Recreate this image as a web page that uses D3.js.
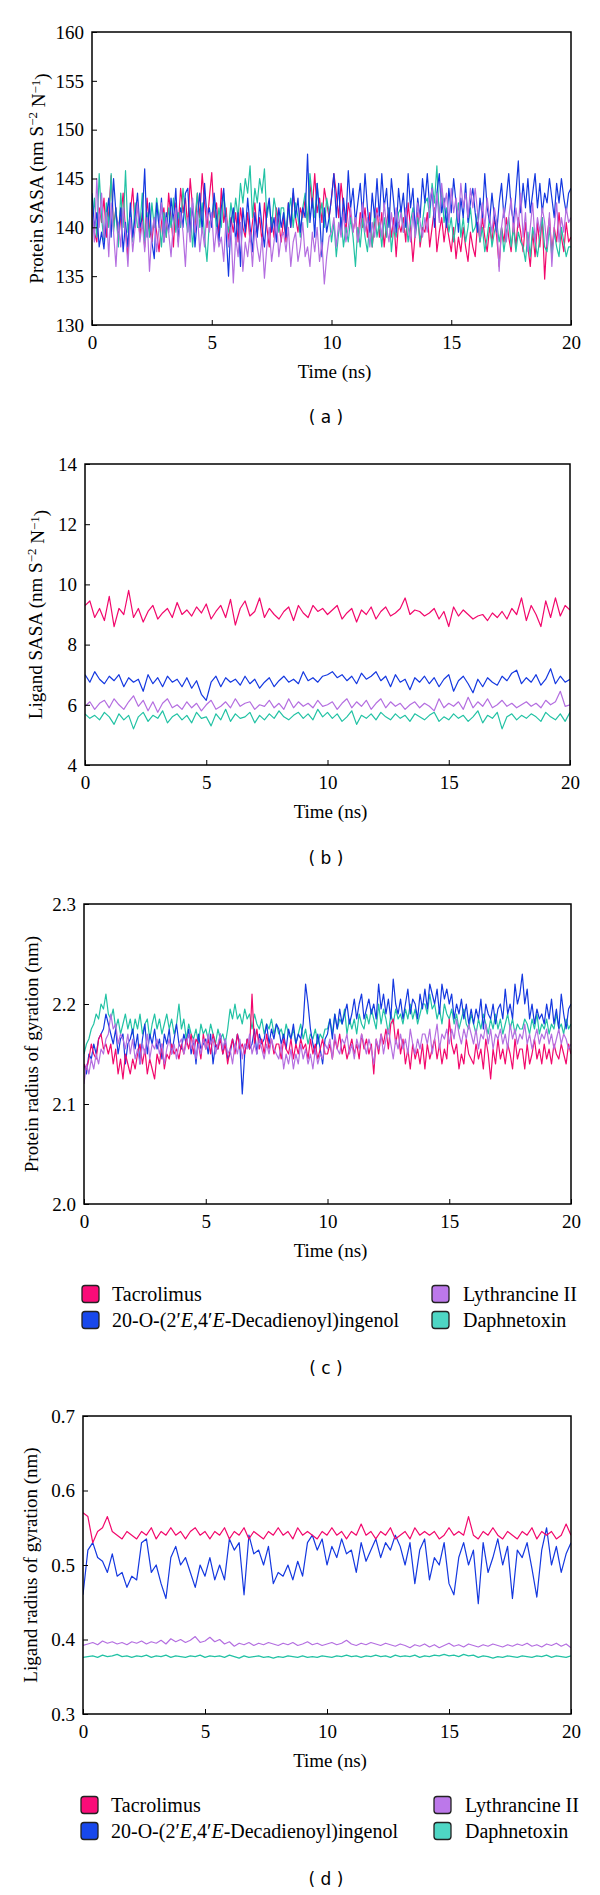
<!DOCTYPE html>
<html><head><meta charset="utf-8">
<script src="https://cdn.jsdelivr.net/npm/d3@7/dist/d3.min.js"></script>
<style>body{margin:0;background:#fff}</style>
</head><body>
<svg id="chart" width="600" height="1895"></svg>
<script>
// ---------- data ----------
const seriesNames = ["Tacrolimus", "20-O-(2′E,4′E-Decadienoyl)ingenol", "Lythrancine II", "Daphnetoxin"];
const timeSpan = 20; // ns, samples are evenly spaced over 0–20 ns
const xTicks = [0, 5, 10, 15, 20];

// (a) Protein SASA, 0.1 ns sampling
const aTac = [141,139.5,138.5,142,140.5,143,139,141.5,145.3,140, 142,138.5,141,143.5,139.5,137,141.5,144,140,142.5, 139,141.5,138,143,140,138.5,141,139.5,137.5,140.5, 142,139,143.5,141,138,142.5,140,144,141.5,143, 140,145,142,139.5,143.5,141,145.5,142.5,140,143, 145.6,141,142.5,139,144,140.5,142,138.5,141,139.5, 141.5,138.5,142,140,139,141.5,138.5,140.5,142.5,139.5, 141,138.5,142.5,140,138,141,139,142,140.5,138.5, 141,138.5,142.5,140,143.5,141,139.5,142,141,143, 140.5,144.5,142,145.5,141.5,143,140.5,144,142.5,141, 143,145.5,143.5,141,144.5,142,139.5,142.5,141,139.5, 141,138.5,141.5,140,142,139,141.5,138,140.5,142, 139,141.5,138,140.5,142,139,141,137,140.5,139.5, 141,138.5,142.5,140,136.5,139.5,141.5,138,140,139.5, 141.5,138,140,142,137.5,139.5,141,138.5,140.5,139, 137.5,140,136.8,139,137.5,140,138,136.5,139.5,138, 137,140.5,138.5,141,139,137.5,140,138.5,141,139, 136,140,138.5,141,139,137.5,140.5,138,141,139.5, 137.5,140.5,138,136,139.5,137,140.5,138,141,134.7, 139,141,137.5,140,138.5,141.5,139,137.5,140.5,138.5, 139];
const aDeca = [143.5,140,141.5,138,139.5,137.8,141,143,139,145, 141.5,139.5,142,137.5,140.5,138,142.5,139,141,143.5, 140,141,146,139,142.5,138.5,136.8,142.5,140,143, 138.5,141.5,139.5,143,140.5,144,138.5,142,140,143.5, 144,139.5,142.5,138,141,143.5,139.5,144.5,141,142, 140,143.5,141,138.5,142,144,139.5,135,140.5,142, 138.5,141.5,136,142,139.5,143,140,137.5,141.5,139, 142.5,140,138,141.5,143,139.5,141,138.5,142,140, 141.5,139,142.5,140,144,141,143,139.5,142,141, 147.5,140.5,143,139,144.5,141.5,137,142,139.5,141, 143,145.5,141,144.5,139.5,143,140.5,145.8,142,144, 140.5,142.5,144.5,141,145.5,142,139.5,143.5,141,145, 141,145.5,142,144,140,145,142.5,139.5,144,141.5, 143.5,140,145.5,142,144,139.5,143,141,145,142.5, 145.5,142,144,140,143.5,145.5,141.5,143,140,144, 141.5,145,142.5,139.5,143,141,144.5,140.5,142.5,144, 141.5,139.5,143,141,145.5,142,140.5,143.5,141,139.5, 142.5,144.5,141,143,145.5,142,140.5,143.5,146.8,141.5, 144.5,142,145,141.5,143.5,145.5,142,144.5,141.5,143.5, 142.5,145,143,141,144.5,142.5,145,143,141.5,143.5, 144];
const aLyth = [142,138.5,145,140,143.5,139,141.5,137,142.5,139.5, 136,140.5,138,142,139.5,136,141,137.5,140,142.5, 138.5,140.5,137.5,141,135.5,139.5,141,137.5,140,142.5, 138.5,141,139.5,137,140.5,142,138,141.5,139.5,136, 141,138.5,143,139.5,141.5,137.5,140,138,142,139.5, 141.5,137.5,140,138,139,136.5,141,138,140,134.3, 139,137,140.5,135.5,138.5,137,139.5,136,140,138, 136.5,139,134.8,138,140,136.5,138.5,141,137,139, 139.5,137.5,140,136,138.5,139.5,136.5,138,140.5,137, 138,136,139.5,137.5,140,136.5,138.5,134.2,137,139, 139.5,141,138,140.5,139,141.5,138.5,140,142,139.5, 141,138.5,140,142.5,139.5,141,138,140.5,139,141.5, 141,139,142.5,140,138.5,141.5,139.5,142,140,141.5, 139.5,142,140,138.5,141.5,139,142.5,140.5,139,141, 139.5,142.5,144,141,143.5,140.5,144.5,142,143.5,140.5, 144,141.5,143,140.5,144.5,142,143.5,141,144,142, 144,141.5,139,142.5,140,143,141,139.5,142,140.5, 135.5,140,142,138.5,141,143,139.5,142,140,143.5, 139,141.5,137.5,140,142.5,138.5,141,139.5,142,140.5, 138,141.5,136,140,142.5,138.5,141,139.5,142,140.5, 141];
const aDaph = [140,143,139,145.5,141,138.5,142.5,140,145.5,139.5, 142,138,143.5,140,145.8,139.5,141.5,138.5,142.5,140, 140,143.5,138.5,141.5,139,142.5,140,143,141,138, 141.5,139,142,140,143,139.5,141.5,140,144,141, 139.5,142,138,141,143.5,140,142.5,139,136.5,140.5, 141,143,139.5,142,140,143.5,141,139.5,142.5,140.5, 143,141,144.5,142.5,145,143.5,146.3,141,144,142.5, 145,143.5,146,141,142.5,140,143,141.5,139.5,142, 142,139.5,141.5,143,140,142.5,141,139,142,143.5, 140,145.5,143,141,144.5,141,142.5,140,143,141.5, 138.5,140.5,137,139.5,141,138,140,138.5,141,139, 136,140,138,141,139,137.5,140.5,138,141.5,139, 140.5,138,141,139,142,137.5,140,139,141.5,142, 139.5,141,138.5,140.5,142,139,141,138.5,140.5,142.5, 143,141,144.5,142.5,146.3,141,144,140.5,142,139.5, 141,138.5,140.5,142.5,139,141,138.5,140,142,139.5, 140,141.5,138.5,140,137.5,139,141,138,139.5,140.5, 138.5,140,137.5,139.5,141,138,140,137.5,139.5,138.5, 138,136.5,139.5,137,140,138.5,137,139,141,138, 137.5,140,137,139.5,138,137,140,138.5,137,138, 138];

// (b) Ligand SASA, 0.2 ns sampling
const bTac = [9.3,9.45,8.9,9.2,8.8,9.6,8.6,9.2,9.0,9.8,8.9, 9.2,8.75,9.1,9.3,8.85,9.05,9.2,8.9,9.4,9.0, 9.15,8.95,9.25,9.05,9.35,8.85,9.1,9.3,8.9,9.5, 8.65,9.2,9.45,8.95,9.1,9.55,8.9,9.2,9.0,8.85, 9.1,9.25,8.8,9.3,9.05,8.9,9.3,9.1,9.2,9.0, 9.15,9.3,8.85,9.05,9.2,8.75,9.15,9.0,9.25,8.85, 9.1,9.25,8.95,9.05,9.2,9.55,9.0,9.15,9.1,8.95, 9.05,9.2,8.85,9.1,8.6,9.25,8.95,9.15,9.0,8.85, 8.95,9.0,8.8,9.05,8.9,9.1,8.85,9.2,9.0,9.55, 8.8,9.3,9.0,8.6,9.45,8.9,9.55,8.95,9.3,9.15];
const bDeca = [7.0,6.75,7.1,6.85,6.7,6.95,6.8,7.0,6.6,6.9,6.75, 6.85,6.45,7.0,6.7,6.9,6.6,6.95,6.75,6.85,6.6, 6.9,6.55,6.8,6.35,6.15,6.75,6.95,6.6,6.9,6.75, 6.85,6.65,6.95,6.7,6.85,6.55,6.75,6.9,6.6,6.8, 6.95,6.75,6.85,6.7,7.1,6.8,6.9,6.75,6.95,7.0, 7.1,6.9,7.0,6.8,6.95,6.7,7.05,6.85,6.95,7.1, 6.8,6.95,6.6,7.0,6.75,6.85,6.5,6.9,6.75,6.95, 6.7,6.9,6.6,6.85,7.0,6.45,6.8,6.95,6.7,6.4, 6.85,6.6,6.9,6.75,6.65,6.95,6.8,7.05,7.15,6.7, 6.9,6.75,7.0,6.65,6.85,7.2,6.7,6.95,6.75,6.85];
const bLyth = [5.95,6.1,5.85,6.05,6.15,5.9,6.2,6.0,5.85,6.1,6.3, 5.95,6.15,5.8,6.1,5.75,6.05,6.2,5.9,6.0,5.85, 6.1,5.9,6.05,5.8,6.0,6.15,5.85,5.95,6.1,5.9, 6.2,5.95,6.05,6.1,5.85,6.0,5.95,6.15,5.9,6.05, 5.85,6.2,5.9,6.1,5.95,6.05,5.9,6.15,5.95,6.0, 6.1,5.85,6.05,6.2,5.9,6.1,5.95,6.15,5.85,6.05, 6.2,5.9,6.1,5.95,6.05,5.85,6.0,6.1,5.9,6.05, 5.95,5.8,6.2,5.9,6.05,5.95,6.1,5.85,6.25,5.9, 6.1,5.95,6.2,5.9,6.0,6.15,5.95,6.05,5.9,6.0, 6.1,5.95,6.05,5.9,6.15,6.0,6.1,6.45,5.95,6.0];
const bDaph = [5.7,5.55,5.65,5.5,5.75,5.6,5.35,5.7,5.5,5.65,5.2, 5.6,5.75,5.45,5.65,5.55,5.8,5.4,5.6,5.7,5.5, 5.65,5.4,5.75,5.55,5.6,5.3,5.7,5.5,5.85,5.45, 5.7,5.55,5.6,5.75,5.4,5.65,5.5,5.7,5.55,5.8, 5.6,5.5,5.65,5.75,5.55,5.7,5.5,5.85,5.6,5.75, 5.55,5.7,5.45,5.6,5.8,5.35,5.65,5.55,5.7,5.5, 5.75,5.6,5.5,5.7,5.55,5.65,5.45,5.7,5.6,5.5, 5.65,5.75,5.45,5.6,5.5,5.7,5.55,5.65,5.45,5.6, 5.8,5.4,5.65,5.55,5.75,5.2,5.6,5.7,5.5,5.65, 5.55,5.7,5.6,5.45,5.75,5.6,5.5,5.7,5.45,5.75];

// (c) Protein radius of gyration, 0.1 ns sampling
const cTac = [2.14,2.135,2.145,2.16,2.15,2.145,2.165,2.17,2.155,2.16, 2.15,2.16,2.14,2.155,2.13,2.145,2.125,2.15,2.14,2.13, 2.145,2.135,2.15,2.16,2.14,2.155,2.13,2.145,2.135,2.125, 2.15,2.14,2.16,2.135,2.15,2.145,2.16,2.15,2.155,2.145, 2.16,2.15,2.165,2.155,2.17,2.15,2.165,2.16,2.145,2.17, 2.155,2.165,2.15,2.17,2.16,2.155,2.165,2.15,2.16,2.14, 2.155,2.165,2.15,2.17,2.155,2.16,2.15,2.165,2.155,2.21, 2.16,2.175,2.155,2.165,2.15,2.17,2.155,2.165,2.15,2.16, 2.16,2.145,2.165,2.155,2.15,2.165,2.145,2.16,2.15,2.165, 2.155,2.16,2.145,2.165,2.15,2.16,2.145,2.155,2.165,2.15, 2.15,2.16,2.145,2.165,2.155,2.17,2.15,2.16,2.145,2.155, 2.165,2.15,2.16,2.145,2.17,2.155,2.165,2.15,2.16,2.13, 2.165,2.15,2.17,2.16,2.175,2.155,2.18,2.185,2.16,2.175, 2.15,2.165,2.14,2.155,2.135,2.16,2.145,2.155,2.14,2.16, 2.135,2.16,2.145,2.155,2.165,2.145,2.16,2.14,2.155,2.145, 2.185,2.16,2.15,2.16,2.135,2.15,2.14,2.165,2.15,2.145, 2.14,2.16,2.145,2.155,2.135,2.165,2.15,2.125,2.155,2.14, 2.165,2.145,2.155,2.14,2.16,2.15,2.135,2.165,2.145,2.155, 2.155,2.135,2.16,2.14,2.15,2.165,2.145,2.155,2.14,2.16, 2.145,2.155,2.14,2.16,2.15,2.145,2.16,2.15,2.14,2.16, 2.15];
const cDeca = [2.14,2.13,2.15,2.145,2.16,2.15,2.165,2.17,2.175,2.19, 2.18,2.17,2.16,2.175,2.15,2.165,2.17,2.14,2.16,2.165, 2.175,2.155,2.17,2.14,2.165,2.18,2.15,2.17,2.16,2.175, 2.155,2.165,2.145,2.17,2.16,2.175,2.15,2.165,2.18,2.16, 2.155,2.17,2.16,2.175,2.15,2.165,2.14,2.17,2.155,2.16, 2.165,2.15,2.17,2.14,2.16,2.155,2.17,2.15,2.165,2.145, 2.15,2.165,2.155,2.17,2.16,2.11,2.15,2.165,2.155,2.16, 2.175,2.15,2.17,2.16,2.165,2.18,2.16,2.175,2.165,2.18, 2.175,2.16,2.17,2.155,2.175,2.165,2.18,2.16,2.17,2.165, 2.18,2.22,2.2,2.175,2.16,2.15,2.17,2.155,2.14,2.165, 2.17,2.185,2.165,2.19,2.175,2.195,2.18,2.19,2.2,2.18, 2.19,2.205,2.185,2.2,2.21,2.185,2.195,2.205,2.19,2.2, 2.185,2.22,2.195,2.21,2.19,2.205,2.185,2.225,2.2,2.19, 2.205,2.185,2.2,2.215,2.19,2.205,2.2,2.185,2.21,2.195, 2.215,2.195,2.22,2.21,2.2,2.215,2.19,2.22,2.205,2.215, 2.2,2.21,2.185,2.2,2.19,2.205,2.185,2.2,2.18,2.195, 2.18,2.195,2.185,2.205,2.175,2.2,2.19,2.185,2.2,2.18, 2.195,2.2,2.185,2.215,2.19,2.2,2.185,2.22,2.2,2.21, 2.23,2.2,2.215,2.185,2.2,2.18,2.195,2.185,2.19,2.18, 2.2,2.185,2.205,2.18,2.195,2.175,2.21,2.19,2.175,2.195, 2.2];
const cLyth = [2.12,2.14,2.13,2.145,2.135,2.15,2.14,2.155,2.15,2.165, 2.17,2.19,2.175,2.18,2.16,2.17,2.165,2.155,2.17,2.15, 2.165,2.145,2.155,2.14,2.16,2.15,2.17,2.145,2.16,2.155, 2.165,2.15,2.16,2.14,2.155,2.165,2.15,2.16,2.145,2.16, 2.165,2.15,2.16,2.17,2.155,2.165,2.145,2.16,2.15,2.165, 2.155,2.17,2.16,2.165,2.15,2.16,2.17,2.155,2.165,2.15, 2.155,2.14,2.16,2.15,2.165,2.145,2.16,2.155,2.17,2.15, 2.16,2.15,2.165,2.155,2.145,2.16,2.15,2.165,2.155,2.15, 2.145,2.16,2.135,2.15,2.14,2.155,2.135,2.15,2.14,2.16, 2.145,2.155,2.14,2.15,2.135,2.155,2.14,2.15,2.145,2.16, 2.155,2.165,2.145,2.17,2.155,2.15,2.165,2.16,2.17,2.15, 2.16,2.145,2.165,2.155,2.17,2.16,2.15,2.165,2.155,2.14, 2.165,2.155,2.17,2.15,2.165,2.175,2.16,2.145,2.165,2.155, 2.17,2.155,2.165,2.15,2.175,2.16,2.15,2.165,2.155,2.17, 2.17,2.16,2.175,2.15,2.165,2.18,2.155,2.17,2.165,2.175, 2.16,2.175,2.165,2.185,2.17,2.16,2.175,2.165,2.18,2.17, 2.16,2.175,2.155,2.17,2.165,2.18,2.16,2.175,2.155,2.17, 2.165,2.175,2.16,2.17,2.155,2.18,2.165,2.175,2.16,2.17, 2.165,2.18,2.16,2.17,2.155,2.165,2.175,2.16,2.17,2.165, 2.175,2.16,2.17,2.155,2.165,2.175,2.16,2.17,2.165,2.155, 2.16];
const cDaph = [2.15,2.16,2.165,2.175,2.18,2.19,2.185,2.2,2.195,2.21, 2.19,2.185,2.195,2.175,2.185,2.17,2.18,2.19,2.175,2.185, 2.17,2.185,2.175,2.19,2.17,2.18,2.185,2.165,2.18,2.19, 2.175,2.185,2.17,2.18,2.19,2.175,2.185,2.17,2.18,2.2, 2.175,2.185,2.165,2.18,2.17,2.165,2.175,2.16,2.18,2.17, 2.175,2.165,2.18,2.17,2.16,2.175,2.165,2.17,2.16,2.175, 2.195,2.185,2.2,2.185,2.19,2.18,2.195,2.185,2.19,2.175, 2.19,2.18,2.175,2.185,2.17,2.18,2.175,2.185,2.17,2.18, 2.17,2.175,2.165,2.18,2.17,2.165,2.175,2.16,2.17,2.18, 2.165,2.175,2.16,2.17,2.165,2.175,2.16,2.17,2.165,2.175, 2.175,2.185,2.17,2.19,2.175,2.185,2.18,2.195,2.17,2.185, 2.175,2.185,2.17,2.19,2.18,2.175,2.19,2.18,2.195,2.185, 2.175,2.2,2.18,2.195,2.185,2.17,2.19,2.18,2.195,2.185, 2.19,2.18,2.195,2.185,2.2,2.185,2.195,2.18,2.19,2.2, 2.2,2.19,2.21,2.195,2.2,2.185,2.195,2.18,2.2,2.19, 2.185,2.195,2.18,2.19,2.175,2.185,2.195,2.18,2.175,2.19, 2.18,2.17,2.185,2.175,2.19,2.18,2.17,2.185,2.175,2.19, 2.175,2.185,2.17,2.18,2.19,2.175,2.185,2.17,2.18,2.175, 2.175,2.185,2.18,2.17,2.185,2.175,2.19,2.17,2.18,2.175, 2.185,2.17,2.18,2.175,2.19,2.175,2.18,2.17,2.185,2.175, 2.18];

// (d) Ligand radius of gyration, 0.2 ns sampling
const dTac = [0.57,0.565,0.53,0.545,0.55,0.565,0.545,0.54,0.535,0.545,0.54, 0.535,0.545,0.54,0.55,0.535,0.545,0.54,0.55,0.54,0.545, 0.535,0.545,0.55,0.54,0.545,0.535,0.545,0.54,0.55,0.535, 0.545,0.54,0.55,0.535,0.545,0.54,0.535,0.545,0.54,0.55, 0.54,0.545,0.535,0.55,0.54,0.545,0.54,0.535,0.545,0.54, 0.55,0.54,0.545,0.535,0.545,0.54,0.555,0.54,0.545,0.535, 0.545,0.54,0.55,0.535,0.54,0.545,0.535,0.55,0.54,0.545, 0.54,0.545,0.535,0.54,0.55,0.54,0.545,0.54,0.565,0.54, 0.535,0.545,0.54,0.55,0.54,0.535,0.545,0.54,0.535,0.545, 0.54,0.55,0.535,0.545,0.54,0.545,0.535,0.54,0.555,0.54];
const dDeca = [0.46,0.52,0.53,0.51,0.505,0.49,0.515,0.485,0.49,0.47,0.485, 0.48,0.53,0.535,0.49,0.5,0.475,0.455,0.51,0.525,0.5, 0.51,0.49,0.47,0.5,0.485,0.51,0.48,0.5,0.48,0.535, 0.52,0.53,0.46,0.54,0.515,0.52,0.5,0.525,0.475,0.49, 0.485,0.5,0.48,0.505,0.485,0.53,0.54,0.52,0.535,0.5, 0.525,0.51,0.535,0.515,0.52,0.49,0.53,0.505,0.52,0.535, 0.51,0.53,0.52,0.54,0.525,0.5,0.53,0.475,0.52,0.535, 0.48,0.51,0.5,0.53,0.475,0.46,0.51,0.53,0.5,0.52, 0.448,0.53,0.49,0.51,0.535,0.5,0.525,0.455,0.52,0.51, 0.53,0.495,0.457,0.52,0.55,0.5,0.525,0.49,0.515,0.53];
const dLyth = [0.392,0.394,0.396,0.393,0.398,0.395,0.397,0.394,0.396,0.393,0.397, 0.395,0.398,0.394,0.397,0.395,0.399,0.394,0.401,0.397,0.4, 0.396,0.399,0.404,0.396,0.398,0.403,0.397,0.4,0.394,0.397, 0.391,0.395,0.393,0.396,0.392,0.395,0.393,0.396,0.394,0.392, 0.395,0.393,0.396,0.392,0.394,0.397,0.393,0.395,0.392,0.394, 0.396,0.393,0.395,0.399,0.394,0.392,0.395,0.393,0.396,0.394, 0.392,0.395,0.393,0.391,0.394,0.392,0.389,0.393,0.391,0.394, 0.39,0.393,0.389,0.392,0.395,0.391,0.393,0.39,0.394,0.392, 0.39,0.393,0.391,0.394,0.392,0.39,0.393,0.391,0.394,0.392, 0.395,0.391,0.393,0.39,0.394,0.392,0.395,0.391,0.394,0.389];
const dDaph = [0.376,0.377,0.378,0.376,0.379,0.377,0.378,0.38,0.377,0.378,0.376, 0.378,0.377,0.379,0.376,0.378,0.377,0.379,0.376,0.378,0.377, 0.376,0.378,0.377,0.379,0.376,0.378,0.377,0.378,0.376,0.379, 0.377,0.375,0.378,0.376,0.377,0.378,0.376,0.377,0.375,0.377, 0.376,0.378,0.377,0.376,0.378,0.376,0.377,0.376,0.378,0.377, 0.376,0.378,0.377,0.379,0.377,0.378,0.376,0.378,0.377,0.379, 0.377,0.378,0.376,0.379,0.377,0.378,0.377,0.379,0.376,0.378, 0.377,0.379,0.378,0.38,0.378,0.379,0.377,0.38,0.378,0.379, 0.376,0.378,0.377,0.375,0.377,0.376,0.378,0.377,0.376,0.378, 0.377,0.376,0.378,0.377,0.379,0.376,0.378,0.377,0.376,0.378];

const aTicks = [130, 135, 140, 145, 150, 155, 160];
const bTicks = [4, 6, 8, 10, 12, 14];
const cTicks = [2.0, 2.1, 2.2, 2.3];
const dTicks = [0.3, 0.4, 0.5, 0.6, 0.7];

// ---------- style ----------
const lineColors = ["#f2086c", "#1438e0", "#b46ee0", "#22c2a4"];
const swatchColors = ["#fa0c78", "#1848ec", "#bc78ea", "#4ed6c4"];
const serif = "'Liberation Serif','Times New Roman',serif";
const sans = "'DejaVu Sans',Verdana,sans-serif";

const svg = d3.select("#chart");

const panels = [
  {id:"a", L:92, R:571, T:32,  B:325, domain:[130,160], ticks:aTicks, minor:2.5, fmt:d3.format("d"),
   data:[aTac,aDeca,aLyth,aDaph], order:[0,3,1,2], ylab:"sasa", ylabText:"Protein SASA", ylx:36, legend:false},
  {id:"b", L:85, R:570, T:464, B:765, domain:[4,14], ticks:bTicks, minor:2/3, fmt:d3.format("d"),
   data:[bTac,bDeca,bLyth,bDaph], order:[0,1,2,3], ylab:"sasa", ylabText:"Ligand SASA", ylx:35, legend:false},
  {id:"c", L:84, R:571, T:904, B:1204, domain:[2.0,2.3], ticks:cTicks, minor:null, fmt:d3.format(".1f"),
   data:[cTac,cDeca,cLyth,cDaph], order:[3,1,0,2], ylab:"plain", ylabText:"Protein radius of gyration (nm)", ylx:31, legend:true},
  {id:"d", L:83, R:571, T:1416, B:1714, domain:[0.3,0.7], ticks:dTicks, minor:null, fmt:d3.format(".1f"),
   data:[dTac,dDeca,dLyth,dDaph], order:[3,2,1,0], ylab:"plain", ylabText:"Ligand radius of gyration (nm)", ylx:30, legend:true}
];
const captionY = {a:417, b:858, c:1368, d:1879};
const legendRowY = {c:[1294,1320], d:[1805,1831]};

panels.forEach(p => {
  const g = svg.append("g");
  const x = d3.scaleLinear().domain([0, timeSpan]).range([p.L, p.R]);
  const y = d3.scaleLinear().domain(p.domain).range([p.B, p.T]);

  const clipId = "clip-" + p.id;
  svg.append("clipPath").attr("id", clipId).append("rect")
    .attr("x", p.L).attr("y", p.T).attr("width", p.R - p.L).attr("height", p.B - p.T);

  p.order.forEach(k => {
    const vals = p.data[k];
    const step = timeSpan / (vals.length - 1);
    const line = d3.line().x((d, i) => x(i * step)).y(d => y(d));
    g.append("path").datum(vals)
      .attr("d", line)
      .attr("fill", "none")
      .attr("stroke", lineColors[k])
      .attr("stroke-width", 1.2)
      .attr("stroke-linejoin", "round")
      .attr("clip-path", `url(#${clipId})`);
  });

  // x axis (bottom, ticks inward)
  const xMinor = d3.range(1, 20).filter(v => v % 5 !== 0);
  const xAx = g.append("g").attr("transform", `translate(0,${p.B})`);
  xAx.call(d3.axisBottom(x).tickValues(xMinor).tickSize(-3).tickFormat(""));
  xAx.call(d3.axisBottom(x).tickValues(xTicks).tickSize(-5).tickFormat(d3.format("d")));
  xAx.select(".domain").remove();
  xAx.selectAll("line").attr("stroke", "#000").attr("stroke-width", 1);
  xAx.selectAll("text").attr("font-family", serif).attr("font-size", 19).attr("fill", "#000")
    .attr("y", 17).attr("dy", "0.35em");

  // y axis (left, ticks inward)
  const yAx = g.append("g").attr("transform", `translate(${p.L},0)`);
  if (p.minor) {
    const minorVals = [];
    for (let i = 0; i < p.ticks.length - 1; i++) {
      for (let v = p.ticks[i] + p.minor; v < p.ticks[i + 1] - 1e-6; v += p.minor) minorVals.push(v);
    }
    yAx.call(d3.axisLeft(y).tickValues(minorVals).tickSize(-3).tickFormat(""));
  }
  yAx.call(d3.axisLeft(y).tickValues(p.ticks).tickSize(-5).tickFormat(p.fmt));
  yAx.select(".domain").remove();
  yAx.selectAll("line").attr("stroke", "#000").attr("stroke-width", 1);
  yAx.selectAll("text").attr("font-family", serif).attr("font-size", 19).attr("fill", "#000")
    .attr("x", -8).attr("dy", "0.33em");

  // frame
  g.append("rect").attr("x", p.L).attr("y", p.T).attr("width", p.R - p.L).attr("height", p.B - p.T)
    .attr("fill", "none").attr("stroke", "#000").attr("stroke-width", 1.5);

  // x title
  g.append("text").attr("x", (p.L + p.R) / 2 + 3).attr("y", p.B + 46).attr("dy", "0.35em")
    .attr("text-anchor", "middle").attr("font-family", serif).attr("font-size", 19).text("Time (ns)");

  // y title
  const yt = g.append("text")
    .attr("transform", `translate(${p.ylx},${(p.T + p.B) / 2}) rotate(-90)`)
    .attr("text-anchor", "middle").attr("dy", "0.35em")
    .attr("font-family", serif).attr("font-size", 19);
  if (p.ylab === "sasa") {
    yt.append("tspan").text(p.ylabText + " (nm S");
    yt.append("tspan").attr("dy", "-0.45em").attr("font-size", 13).text("−2");
    yt.append("tspan").attr("dy", "0.45em").text(" N");
    yt.append("tspan").attr("dy", "-0.45em").attr("font-size", 13).text("−1");
    yt.append("tspan").attr("dy", "0.45em").text(")");
  } else {
    yt.text(p.ylabText);
  }

  // caption
  g.append("text").attr("x", 326).attr("y", captionY[p.id]).attr("dy", "0.35em")
    .attr("text-anchor", "middle").attr("font-family", sans).attr("font-size", 17)
    .attr("xml:space", "preserve").text("( " + p.id + " )");

  // legend
  if (p.legend) {
    const rows = legendRowY[p.id];
    const cols = p.id === "c" ? [[82, 112], [432, 463]] : [[81, 111], [434, 465]];
    seriesNames.forEach((name, k) => {
      const col = cols[k <= 1 ? 0 : 1];
      const ry = rows[k === 0 || k === 2 ? 0 : 1];
      g.append("rect").attr("x", col[0]).attr("y", ry - 8.5).attr("width", 17).attr("height", 17)
        .attr("rx", 3).attr("fill", swatchColors[k]).attr("stroke", "#222").attr("stroke-width", 1.3);
      const t = g.append("text").attr("x", col[1]).attr("y", ry).attr("dy", "0.35em")
        .attr("font-family", serif).attr("font-size", 20);
      if (k === 1) {
        t.append("tspan").text("20-O-(2′");
        t.append("tspan").attr("font-style", "italic").text("E");
        t.append("tspan").text(",4′");
        t.append("tspan").attr("font-style", "italic").text("E");
        t.append("tspan").text("-Decadienoyl)ingenol");
      } else {
        t.text(name);
      }
    });
  }
});
</script>
</body></html>
